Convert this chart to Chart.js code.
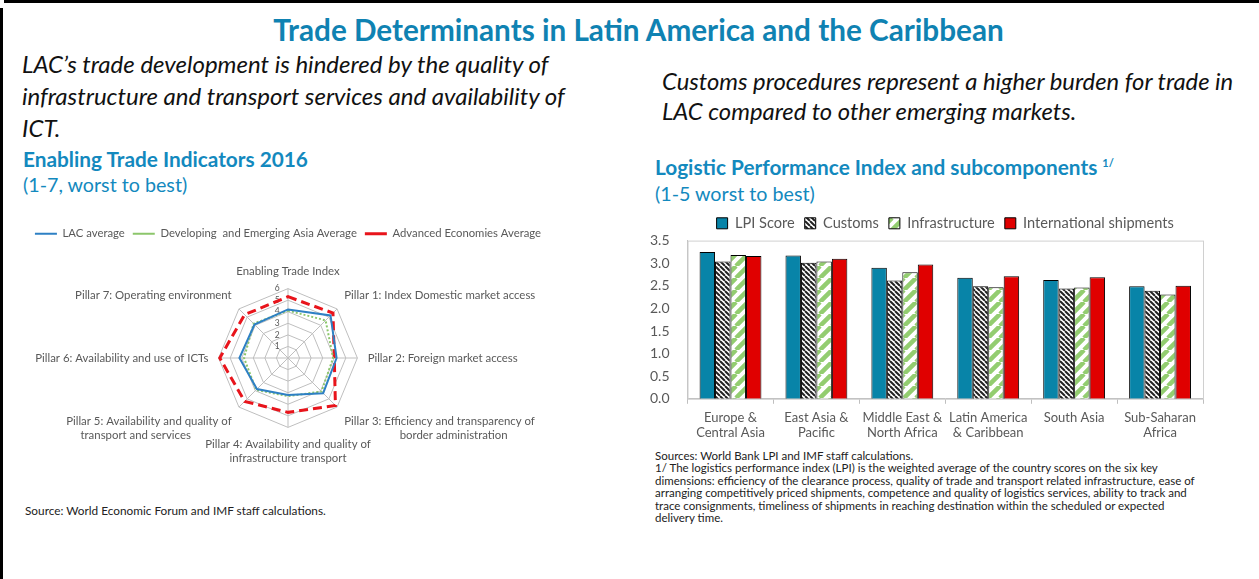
<!DOCTYPE html>
<html>
<head>
<meta charset="utf-8">
<script src="https://cdn.jsdelivr.net/npm/chart.js@4.4.1/dist/chart.umd.min.js"></script>
<style>
  body { margin: 0; width: 1259px; height: 579px; background: #fff; overflow: hidden; position: relative; font-family: Lato, "Open Sans", sans-serif; }
  .abs { position: absolute; white-space: nowrap; }
  #frameTop { left: 4px; top: 0; width: 1255px; height: 3px; background: #000; }
  #frameLeft { left: 0; top: 8px; width: 3px; height: 571px; background: #000; }
  #title { left: 0; width: 1277px; top: 12px; text-align: center; font-weight: bold; font-size: 29.7px; color: #0f82b2; }
  .lead { font-style: italic; font-size: 24px; color: #111; line-height: 32px; }
  .head { font-weight: bold; font-size: 20.8px; color: #1389be; }
  .sub { font-size: 19.7px; color: #1389be; }
  .note { font-size: 11.5px; color: #222; line-height: 12.4px; }
  canvas { position: absolute; }
</style>
</head>
<body>
<div id="frameTop" class="abs"></div>
<div id="frameLeft" class="abs"></div>
<div id="title" class="abs">Trade Determinants in Latin America and the Caribbean</div>

<div class="abs lead" style="left:22px; top:48px;">LAC’s trade development is hindered by the quality of<br>infrastructure and transport services and availability of<br>ICT.</div>
<div class="abs head" style="left:23px; top:146px;">Enabling Trade Indicators 2016</div>
<div class="abs sub" style="left:23px; top:173px;">(1-7, worst to best)</div>

<div class="abs lead" style="left:662px; top:66px; line-height:30px; font-size:23.8px;">Customs procedures represent a higher burden for trade in<br>LAC compared to other emerging markets.</div>
<div class="abs head" style="left:655px; top:154px;">Logistic Performance Index and subcomponents <sup style="font-size:11px;">1/</sup></div>
<div class="abs sub" style="left:655px; top:182px;">(1-5 worst to best)</div>

<canvas id="radarChart" width="640" height="256" style="left:-32px; top:220px;"></canvas>
<canvas id="barChart" width="606" height="241" style="left:640px; top:206px;"></canvas>

<div class="abs note" style="left:25px; top:505px; font-size:11.8px;">Source: World Economic Forum and IMF staff calculations.</div>
<div class="abs note" style="left:655px; top:450px;">Sources: World Bank LPI and IMF staff calculations.<br>1/ The logistics performance index (LPI) is the weighted average of the country scores on the six key<br>dimensions: efficiency of the clearance process, quality of trade and transport related infrastructure, ease of<br>arranging competitively priced shipments, competence and quality of logistics services, ability to track and<br>trace consignments, timeliness of shipments in reaching destination within the scheduled or expected<br>delivery time.</div>

<script>
// radar data (1-7 scale)
const pillarLabels = [
  'Enabling Trade Index',
  'Pillar 1: Index Domestic market access',
  'Pillar 2: Foreign market access',
  ['Pillar 3: Efficiency and transparency of', ' '.repeat(19) + 'border administration'],
  ['Pillar 4: Availability and quality of', 'infrastructure transport'],
  ['Pillar 5: Availability and quality of', 'transport and services' + ' '.repeat(14)],
  'Pillar 6: Availability and use of ICTs',
  'Pillar 7: Operating environment'
];
const lacAverage = [4.2, 5.2, 4.2, 4.3, 3.2, 3.8, 4.2, 4.1];
const asiaAverage = [4.1, 4.6, 3.9, 4.1, 3.3, 3.9, 3.8, 4.2];
const advancedAverage = [5.3, 5.5, 4.0, 5.8, 4.7, 5.3, 5.9, 5.3];

// bar data (1-5 scale)
const regions = [
  ['Europe &', 'Central Asia'],
  ['East Asia &', 'Pacific'],
  ['Middle East &', 'North Africa'],
  ['Latin America', '& Caribbean'],
  'South Asia',
  ['Sub-Saharan', 'Africa']
];
const lpiScore = [3.25, 3.17, 2.90, 2.68, 2.63, 2.49];
const customs = [3.04, 3.01, 2.62, 2.49, 2.44, 2.39];
const infrastructure = [3.18, 3.04, 2.80, 2.47, 2.46, 2.31];
const intlShipments = [3.16, 3.10, 2.97, 2.71, 2.69, 2.50];

const grey = '#595959';

function stripes(bg, fg, size, lw, dir) {
  const c = document.createElement('canvas');
  c.width = size; c.height = size;
  const x = c.getContext('2d');
  x.fillStyle = bg;
  x.fillRect(0, 0, size, size);
  x.strokeStyle = fg;
  x.lineWidth = lw;
  x.beginPath();
  for (const k of [-size, 0, size]) {
    if (dir === 'back') { x.moveTo(k, 0); x.lineTo(k + size, size); }
    else { x.moveTo(k, size); x.lineTo(k + size, 0); }
  }
  x.stroke();
  return x.createPattern(c, 'repeat');
}

// radar
new Chart(document.getElementById('radarChart'), {
  type: 'radar',
  data: {
    labels: pillarLabels,
    datasets: [
      { label: 'LAC average', data: lacAverage, borderColor: '#2e80c4', borderWidth: 2, fill: false, pointRadius: 0 },
      { label: 'Developing  and Emerging Asia Average', data: asiaAverage, borderColor: '#8cc66b', borderWidth: 2, borderDash: [2, 2], fill: false, pointRadius: 0 },
      { label: 'Advanced Economies Average', data: advancedAverage, borderColor: '#e8141b', borderWidth: 3, borderDash: [9, 5], fill: false, pointRadius: 0 }
    ]
  },
  options: {
    responsive: false,
    animation: false,
    layout: { padding: { top: 0, bottom: 4 } },
    plugins: {
      legend: {
        labels: {
          usePointStyle: true, pointStyle: 'line', pointStyleWidth: 22,
          color: grey, font: { size: 11.3, family: 'Lato' }, padding: 8
        }
      },
      // empty title used as a gap between legend and plot
      title: { display: true, text: '', weight: 500, padding: 0, font: { size: 8.33 } },
      tooltip: { enabled: false }
    },
    scales: {
      r: {
        min: 0, max: 6,
        ticks: { stepSize: 1, color: grey, font: { size: 8.5, family: 'Lato' }, showLabelBackdrop: false,
                 callback: v => v + ' '.repeat(10) },
        grid: { color: '#bfbfbf' },
        angleLines: { color: '#bfbfbf' },
        pointLabels: { color: grey, font: { size: 11.4, family: 'Lato' }, padding: 4 }
      }
    }
  }
});

// plot area frame
const framePlugin = {
  id: 'frame',
  beforeDatasetsDraw(chart) {
    const a = chart.chartArea, ctx = chart.ctx;
    ctx.save();
    ctx.strokeStyle = '#d0d0d0';
    ctx.lineWidth = 1;
    ctx.strokeRect(a.left + 0.5, a.top + 0.5, a.right - a.left, a.bottom - a.top);
    ctx.restore();
  }
};

new Chart(document.getElementById('barChart'), {
  type: 'bar',
  data: {
    labels: regions,
    datasets: [
      { label: 'LPI Score', data: lpiScore, backgroundColor: '#0884a8', borderColor: '#000', borderWidth: 1 },
      { label: 'Customs', data: customs, backgroundColor: stripes('#fff', '#222', 5, 2, 'back'), borderColor: '#000', borderWidth: 1 },
      { label: 'Infrastructure', data: infrastructure, backgroundColor: stripes('#fff', '#93cd70', 12, 4.5, 'fwd'), borderColor: '#000', borderWidth: 1 },
      { label: 'International shipments', data: intlShipments, backgroundColor: '#e00000', borderColor: '#000', borderWidth: 1 }
    ]
  },
  options: {
    responsive: false,
    animation: false,
    datasets: { bar: { categoryPercentage: 0.72, barPercentage: 1 } },
    layout: { padding: { left: 0, right: 43, top: 0, bottom: 0 } },
    plugins: {
      legend: {
        fullSize: false,
        labels: { boxWidth: 11, boxHeight: 11, color: grey, font: { size: 14.6, family: 'Lato' }, padding: 10 }
      },
      tooltip: { enabled: false }
    },
    scales: {
      x: {
        grid: { display: true, drawOnChartArea: false, tickLength: 5, color: '#bfbfbf' },
        border: { color: '#bfbfbf' },
        ticks: { color: grey, font: { size: 13, family: 'Lato' }, maxRotation: 0, autoSkip: false, padding: 6 }
      },
      y: {
        min: 0, max: 3.5,
        grid: { display: false },
        border: { color: '#bfbfbf' },
        ticks: { stepSize: 0.5, color: grey, font: { size: 14, family: 'Lato' }, padding: 10, callback: v => v.toFixed(1) }
      }
    }
  },
  plugins: [framePlugin]
});
</script>
</body>
</html>
